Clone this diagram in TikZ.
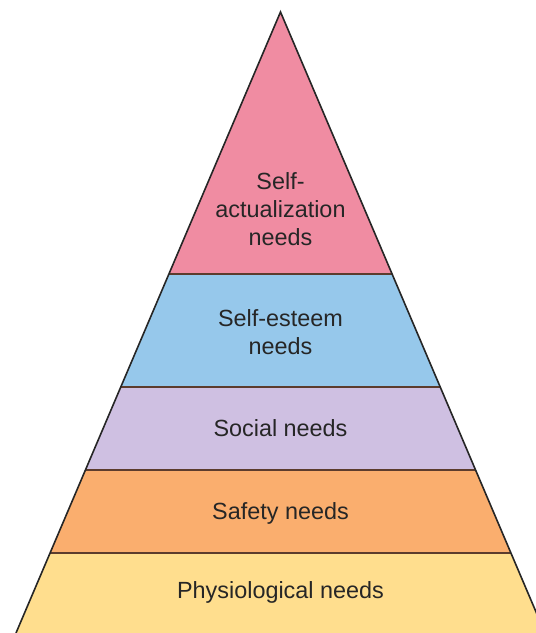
\documentclass[tikz,border=0pt]{standalone}
\usepackage{fontspec}
\setmainfont{Liberation Sans}
\usetikzlibrary{positioning}

\definecolor{tierpink}{RGB}{240,140,162}
\definecolor{tierblue}{RGB}{150,200,235}
\definecolor{tierlilac}{RGB}{207,192,226}
\definecolor{tierorange}{RGB}{250,174,110}
\definecolor{tieryellow}{RGB}{255,222,142}
\definecolor{sepline}{RGB}{92,60,45}

\begin{document}
\begin{tikzpicture}[x=1pt,y=1pt,
  label/.style={align=center,text=black!85,font=\fontsize{23.4}{28}\selectfont},
  sep/.style={draw=sepline,line width=1.6pt}]
\useasboundingbox (0,0) rectangle (536,633);
\clip (0,0) rectangle (536,633);

% les etages
\fill[tierpink] (280.5,621) -- (392.1,359) -- (168.9,359) -- cycle;
\fill[tierblue] (168.9,359) -- (392.1,359) -- (440.25,246) -- (120.75,246) -- cycle;
\fill[tierlilac] (120.75,246) -- (440.25,246) -- (475.6,163) -- (85.4,163) -- cycle;
\fill[tierorange] (85.4,163) -- (475.6,163) -- (511,80) -- (50,80) -- cycle;
\fill[tieryellow] (50,80) -- (511,80) -- (545,0) -- (16,0) -- cycle;

% separations
\draw[sep] (168.9,359) -- (392.1,359);
\draw[sep] (120.75,246) -- (440.25,246);
\draw[sep] (85.4,163) -- (475.6,163);
\draw[sep] (50,80) -- (511,80);

% contour
\draw[line width=1.6pt,black!85,line join=miter] (16,0) -- (280.5,621) -- (545,0);

\node[label] (selfact) at (280.5,424) {Self-\\actualization\\needs};
\node[label] (esteem) at (280.5,301) {Self-esteem\\needs};
\node[label] (social) at (280.5,205) {Social needs};
\node[label] (safety) at (280.5,120) {Safety needs};
\node[label] (physio) at (280.5,41) {Physiological needs};

\end{tikzpicture}
\end{document}
